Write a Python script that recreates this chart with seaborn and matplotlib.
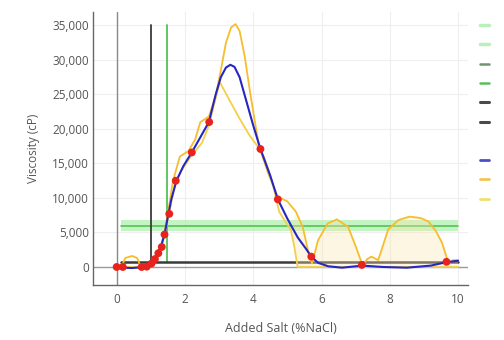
import numpy as np
import pandas as pd
import matplotlib
matplotlib.use("Agg")
import matplotlib.pyplot as plt
from matplotlib.lines import Line2D
from matplotlib.ticker import FuncFormatter
import seaborn as sns

# ---- data ----
meas_x = [0, 0.18, 0.73, 0.88, 1.02, 1.12, 1.22, 1.32, 1.40, 1.54, 1.73, 2.20, 2.71, 4.21, 4.72, 5.70, 7.18, 9.66]
meas_y = [0, 0, 0, 50, 500, 1150, 2000, 2900, 4700, 7700, 12500, 16600, 21000, 17100, 9800, 1500, 300, 750]

fit_x = [0, 0.2, 0.45, 0.7, 0.88, 1.0, 1.1, 1.2, 1.3, 1.4, 1.5, 1.6, 1.75, 1.95, 2.2, 2.45, 2.7, 2.9, 3.05,
         3.2, 3.33, 3.45, 3.6, 3.8, 4.0, 4.21, 4.5, 4.72, 5.0, 5.3, 5.55, 5.7, 5.9, 6.2, 6.6, 7.2, 7.8, 8.5,
         9.2, 9.66, 10.0]
fit_y = [0, -100, -150, -50, 100, 450, 1100, 2000, 3000, 4700, 7300, 9800, 12500, 14600, 16600, 18800,
         21000, 25000, 27500, 28900, 29300, 29000, 27500, 24000, 20500, 17100, 13200, 9800, 7000, 4300,
         2600, 1500, 600, 100, -100, 200, 0, -100, 200, 700, 900]

upper_x = [0, 0.15, 0.25, 0.45, 0.6, 0.7, 0.9, 1.0, 1.1, 1.2, 1.3, 1.4, 1.5, 1.65, 1.85, 2.1, 2.3, 2.45,
           2.7, 2.9, 3.05, 3.2, 3.35, 3.48, 3.6, 3.75, 3.92, 4.16, 4.42, 4.71, 5.0, 5.25, 5.45, 5.6, 5.72,
           5.9, 6.18, 6.45, 6.78, 7.0, 7.2, 7.35, 7.46, 7.66, 7.95, 8.25, 8.58, 8.9, 9.13, 9.35, 9.53,
           9.72, 9.85, 10.0]
upper_y = [0, 100, 1300, 1600, 1300, 100, 100, 500, 1200, 2100, 3100, 5000, 7800, 12500, 16000, 16800,
           18500, 21000, 21800, 24800, 28500, 32500, 34700, 35200, 34200, 30500, 24900, 17700, 13800,
           10200, 9500, 8000, 5800, 2500, 500, 3900, 6300, 6900, 5800, 3000, 300, 1200, 1500, 1000, 5400,
           6800, 7300, 7100, 6600, 5200, 3500, 500, 1000, 1000]

lower_x = [0, 0.7, 0.9, 1.0, 1.1, 1.2, 1.3, 1.4, 1.5, 1.7, 1.9, 2.2, 2.5, 2.7, 2.85, 3.02, 3.3, 3.6, 3.9,
           4.17, 4.31, 4.45, 4.61, 4.76, 4.95, 5.1, 5.2, 5.3, 6.0, 7.0, 8.0, 9.0, 10.0]
lower_y = [0, 0, 100, 400, 900, 1800, 2800, 4500, 7000, 11800, 14000, 16200, 18000, 20500, 23500, 26800,
           24200, 21500, 19000, 17200, 16000, 14000, 11200, 8000, 6500, 5400, 3000, 0, 0, 0, 0, 0, 0]

band_start = 5.1            # shaded region between the bounds (right part only)

target_visc = 6000          # green horizontal band
target_band = 1700
target_salt = 1.47          # green vertical
min_salt = 1.0              # dark vertical
min_visc = 700              # dark horizontal
ref_x_range = [0.12, 10.0]
ref_top = 35000

x_ticks = [0, 2, 4, 6, 8, 10]
y_ticks = [0, 5000, 10000, 15000, 20000, 25000, 30000, 35000]
x_title = "Added Salt (%NaCl)"
y_title = "Viscosity (cP)"

# ---- styling ----
sns.set_theme(style="white")
plt.rcParams['font.family'] = ['Open Sans', 'DejaVu Sans']

W, H = 504, 340
fig = plt.figure(figsize=(W / 100, H / 100), dpi=100)
L, R, T, B = 93, 468, 12, 285
ax = fig.add_axes([L / W, 1 - B / H, (R - L) / W, (B - T) / H])
ax.set_xlim(-0.694, 10.29)
ax.set_ylim(-2610, 36950)

ax.set_xticks(x_ticks)
ax.set_yticks(y_ticks)
ax.yaxis.set_major_formatter(FuncFormatter(lambda v, p: f"{int(v):,}"))
ax.tick_params(axis='both', length=0, labelsize=8.5, colors="#555555")
ax.tick_params(axis='y', pad=3)
ax.tick_params(axis='x', pad=6)
ax.grid(True, color="#efefef", lw=0.8, zorder=0)
for s in ["top", "right"]:
    ax.spines[s].set_visible(False)
for s in ["left", "bottom"]:
    ax.spines[s].set_color("#666666")
    ax.spines[s].set_linewidth(1.0)

# zero lines
ax.axhline(0, color="#9a9a9a", lw=1.0, zorder=1)
ax.axvline(0, color="#8a8a8a", lw=1.0, zorder=1)

# reference lines
ax.fill_between(ref_x_range, target_visc - target_band / 2, target_visc + target_band / 2,
                color="#b6f0b6", alpha=0.8, lw=0, zorder=2)
ax.plot(ref_x_range, [target_visc, target_visc], color="#52c452", lw=1.2, zorder=2.1)
ax.plot([target_salt, target_salt], [min_visc, ref_top], color="#55c055", lw=1.3, zorder=2.2)
ax.plot([min_salt, min_salt], [min_visc, ref_top], color="#3a3a3a", lw=1.3, zorder=2.2)
ax.plot(ref_x_range, [min_visc, min_visc], color="#3a3a3a", lw=1.8, zorder=2.2)

# uncertainty band (right-hand region)
ux, uy = np.array(upper_x), np.array(upper_y)
lx, ly = np.array(lower_x), np.array(lower_y)
mu, ml = ux >= band_start + 0.1, lx >= band_start
band_x = np.concatenate([ux[mu], lx[ml][::-1]])
band_y = np.concatenate([uy[mu], ly[ml][::-1]])
ax.fill(band_x, band_y, color="#fbe6ad", alpha=0.35, lw=0, zorder=2.5)

up_df = pd.DataFrame({"x": upper_x, "y": upper_y})
lo_df = pd.DataFrame({"x": lower_x, "y": lower_y})
fit_df = pd.DataFrame({"x": fit_x, "y": fit_y})
meas_df = pd.DataFrame({"x": meas_x, "y": meas_y})

sns.lineplot(data=up_df, x="x", y="y", sort=False, estimator=None, color="#f6bd2e", lw=1.3, ax=ax, zorder=3)
sns.lineplot(data=lo_df, x="x", y="y", sort=False, estimator=None, color="#f3cf4a", lw=1.3, ax=ax, zorder=3)
sns.lineplot(data=fit_df, x="x", y="y", sort=False, estimator=None, color="#2626c4", lw=1.5, ax=ax, zorder=4)
sns.scatterplot(data=meas_df, x="x", y="y", color="#e8231d", s=32, edgecolor="none", ax=ax, zorder=5)

ax.set_xlabel("")
ax.set_ylabel("")
fig.text(281 / W, 1 - 329 / H, x_title, ha="center", va="center", fontsize=9, color="#555555")
fig.text(33 / W, 1 - 148 / H, y_title, ha="center", va="center", rotation=90, fontsize=8.5, color="#555555")

# truncated legend swatches at the right edge
swatch_colors = ["#b9efb9", "#b9efb9", "#6f946f", "#5cbd5c", "#4a4a4a", "#4a4a4a", None, "#4d4dcc", "#f2c458", "#ece070"]
swatch_lw = [2.5, 2.5, 1.8, 1.8, 2.2, 2.2, 0, 2.0, 2.0, 2.0]
for i, (c, lw) in enumerate(zip(swatch_colors, swatch_lw)):
    if c is None:
        continue
    yy = 1 - (25 + 19.3 * i) / H
    fig.add_artist(Line2D([480 / W, 489 / W], [yy, yy], color=c, lw=lw, transform=fig.transFigure))

fig.savefig("out.png", dpi=100, facecolor="white")
